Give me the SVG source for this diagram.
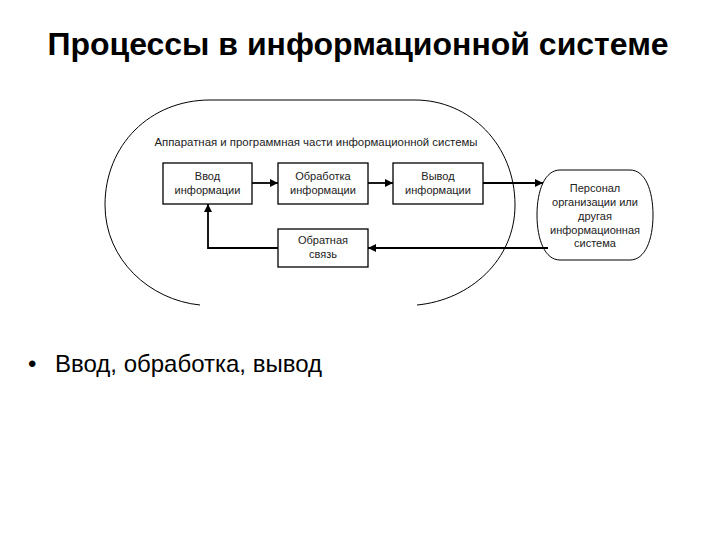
<svg xmlns="http://www.w3.org/2000/svg" width="720" height="540" viewBox="0 0 720 540">
<style>
.t{font-family:"Liberation Sans",Arial,sans-serif;}
.box{fill:#fff;stroke:#000;stroke-width:1.3;}
.lbl{font-family:"Liberation Sans",Arial,sans-serif;font-size:11px;fill:#222;text-anchor:middle;}
.ln{fill:none;stroke:#000;stroke-width:1.8;}
.outline{fill:none;stroke:#000;stroke-width:1;}
</style>
<defs>
<marker id="ah" viewBox="0 0 10 10" refX="10" refY="5" markerWidth="8" markerHeight="8" markerUnits="userSpaceOnUse" orient="auto">
<path d="M0,0 L10,5 L0,10 z" fill="#000"/>
</marker>
</defs>
<rect width="720" height="540" fill="#fff"/>
<text class="t" x="358" y="55" font-size="32" font-weight="bold" text-anchor="middle">Процессы в информационной системе</text>
<g id="system-boundary">
<path class="outline" d="M200,305 C150,300 105,260 105,205 C105,145 150,100 210,100 L415,100 C470,100 515,145 515,205 C515,260 470,300 417,305"/>
<text class="t" x="316" y="146" font-size="11.4" fill="#222" text-anchor="middle">Аппаратная и программная части информационной системы</text>
</g>
<g id="connectors">
<line class="ln" x1="252" y1="183" x2="278" y2="183" marker-end="url(#ah)"/>
<line class="ln" x1="368" y1="183" x2="393" y2="183" marker-end="url(#ah)"/>
<line class="ln" x1="483" y1="183" x2="543" y2="183" marker-end="url(#ah)"/>
<line class="ln" x1="548" y1="248" x2="368" y2="248" marker-end="url(#ah)"/>
<polyline class="ln" points="278,248 208,248 208,204" marker-end="url(#ah)"/>
</g>
<g id="input">
<rect class="box" x="163" y="163" width="89" height="41"/>
<text class="lbl" x="207.5" y="180">Ввод</text>
<text class="lbl" x="207.5" y="194">информации</text>
</g>
<g id="processing">
<rect class="box" x="278" y="163" width="90" height="41"/>
<text class="lbl" x="323" y="180">Обработка</text>
<text class="lbl" x="323" y="194">информации</text>
</g>
<g id="output">
<rect class="box" x="393" y="163" width="90" height="41"/>
<text class="lbl" x="438" y="180">Вывод</text>
<text class="lbl" x="438" y="194">информации</text>
</g>
<g id="feedback">
<rect class="box" x="278" y="229" width="90" height="38"/>
<text class="lbl" x="323" y="244">Обратная</text>
<text class="lbl" x="323" y="258">связь</text>
</g>
<g id="personnel">
<path class="outline" d="M560,170 L630,170 C645,170 653,190 653,215 C653,240 645,260 630,260 L560,260 C545,260 537,240 537,215 C537,190 545,170 560,170 Z"/>
<text class="lbl" x="595" y="192" font-size="11.5">Персонал</text>
<text class="lbl" x="595" y="206" font-size="11.5">организации или</text>
<text class="lbl" x="595" y="220" font-size="11.5">другая</text>
<text class="lbl" x="595" y="234" font-size="11.5">информационная</text>
<text class="lbl" x="595" y="247" font-size="11.5">система</text>
</g>
<text class="t" x="28" y="372" font-size="24">•</text>
<text class="t" x="55" y="372" font-size="24">Ввод, обработка, вывод</text>
</svg>
